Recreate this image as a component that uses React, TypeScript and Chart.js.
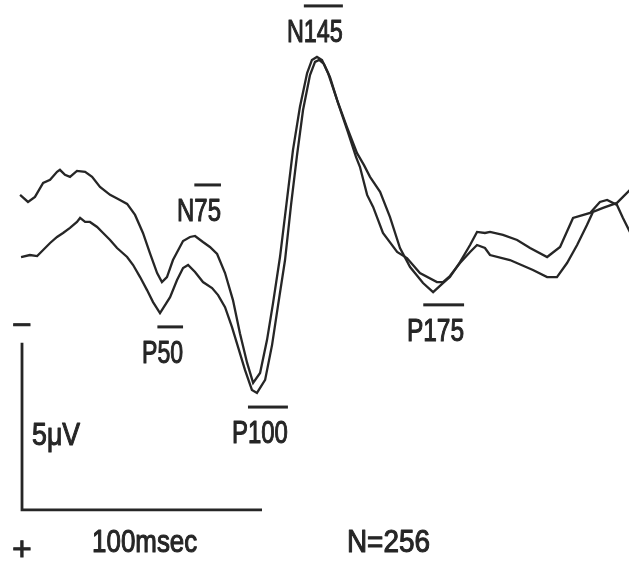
import React, { useEffect, useRef } from "react";
import { Chart, registerables } from "chart.js";

Chart.register(...registerables);

// Time (ms) and amplitude (µV, negative plotted upward) of the two averaged traces
const timeA = [-0.8, 2.5, 5.4, 8.8, 11.7, 14.6, 15.8, 17.9, 20.0, 22.9, 26.3, 29.2, 32.5, 36.7, 40.8, 43.8, 47.1, 50.4, 53.3, 56.3, 58.3, 60.4, 62.9, 67.1, 70.0, 72.1, 75.4, 78.3, 81.3, 84.6, 87.9, 90.8, 93.8, 96.3, 99.2, 102.1, 104.6, 107.5, 110.4, 112.9, 115.8, 118.8, 120.8, 122.9, 125.0, 127.5, 131.3, 135.4, 139.6, 142.5, 145.0, 149.2, 153.3, 157.5, 161.7, 167.1, 171.3, 175.4, 178.3, 182.5, 186.7, 189.6, 192.9, 195.0, 200.4, 206.3, 211.7, 218.8, 224.2, 229.6, 236.7, 240.8, 243.8, 247.9, 250.4, 253.3];
const voltA = [-1.65, -1.44, -1.59, -2.01, -2.10, -2.34, -2.40, -2.25, -2.19, -2.37, -2.34, -2.19, -1.89, -1.65, -1.50, -1.38, -1.05, -0.51, 0.09, 0.69, 0.96, 0.81, 0.30, -0.27, -0.39, -0.42, -0.24, -0.09, 0.12, 0.69, 1.50, 2.49, 3.38, 3.98, 3.68, 2.69, 1.59, 0.21, -1.50, -2.99, -4.28, -5.30, -5.69, -5.78, -5.69, -5.30, -4.49, -3.68, -2.90, -2.54, -2.19, -1.74, -0.99, -0.06, 0.51, 0.99, 1.26, 0.99, 0.81, 0.36, -0.15, -0.54, -0.51, -0.54, -0.45, -0.30, -0.06, 0.21, -0.09, -0.96, -1.11, -1.44, -1.50, -1.35, -0.96, -0.54];

const timeB = [-0.4, 3.3, 6.3, 8.8, 11.7, 14.6, 17.1, 20.0, 22.9, 24.2, 26.3, 28.3, 31.3, 33.8, 36.7, 39.6, 43.8, 46.3, 49.2, 52.1, 54.6, 57.5, 61.7, 64.6, 67.1, 69.2, 72.1, 75.4, 79.2, 81.7, 84.6, 87.5, 90.0, 92.9, 95.8, 97.9, 101.3, 104.2, 106.7, 109.6, 112.1, 114.6, 117.1, 120.0, 122.1, 123.8, 125.8, 128.3, 131.7, 135.8, 139.2, 140.8, 143.8, 146.3, 150.4, 156.3, 160.4, 165.8, 172.9, 175.4, 178.3, 182.5, 186.7, 189.6, 192.9, 195.0, 203.3, 212.9, 218.8, 222.9, 227.1, 231.3, 235.4, 237.9, 242.1, 247.9, 253.3];
const voltB = [0.21, 0.15, 0.18, 0.00, -0.21, -0.39, -0.51, -0.66, -0.84, -0.96, -0.84, -0.84, -0.69, -0.51, -0.30, -0.06, 0.21, 0.45, 0.81, 1.20, 1.56, 1.89, 1.41, 0.90, 0.54, 0.45, 0.66, 0.96, 1.14, 1.35, 1.71, 2.31, 2.90, 3.59, 4.19, 4.28, 3.89, 2.84, 1.65, 0.30, -1.35, -2.84, -4.19, -5.24, -5.63, -5.69, -5.57, -5.18, -4.40, -3.53, -2.78, -2.49, -1.65, -1.29, -0.51, 0.06, 0.24, 0.69, 0.96, 0.96, 0.78, 0.39, 0.06, -0.15, -0.06, 0.15, 0.30, 0.60, 0.81, 0.81, 0.39, -0.15, -0.75, -1.14, -1.26, -1.41, -1.80];

// Peak labels: text, left time (ms), baseline (µV), width (ms)
const peakNames = ["N145", "N75", "P50", "P100", "P175"];
const peakTimes = [110.4, 64.6, 50.0, 87.5, 160.4];
const peakVolts = [-6.23, -0.87, 3.38, 5.78, 2.72];
const peakWidths = [23.3, 18.3, 17.1, 23.3, 23.8];

// Calibration bar: 5 µV by 100 ms
const barTime = [0, 100];
const barVolt = [2.78, 7.78];

const noteTexts = ["5\u03bcV", "100msec", "N=256"];
const noteTimes = [4.2, 29.2, 135.4];
const noteVolts = [5.84, 9.04, 9.04];
const noteWidths = [20.0, 43.8, 34.6];

const INK = "#262626";
const FONT = '32px "Liberation Sans", Arial, Helvetica, sans-serif';

function drawText(ctx: CanvasRenderingContext2D, text: string, x: number, y: number, w: number, overFrom: number) {
  ctx.save();
  ctx.font = FONT;
  const m = ctx.measureText(text).width;
  const sx = w / m;
  ctx.translate(x, y);
  ctx.scale(sx, 1);
  ctx.fillStyle = INK;
  ctx.strokeStyle = INK;
  ctx.lineWidth = 1.1;
  ctx.lineJoin = "round";
  ctx.textBaseline = "alphabetic";
  ctx.textAlign = "left";
  ctx.fillText(text, 0, 0);
  ctx.strokeText(text, 0, 0);
  if (overFrom > 0) {
    const pre = ctx.measureText(text.slice(0, overFrom)).width;
    ctx.fillRect(pre, -37.5, m - pre, 3);
  }
  ctx.restore();
}

const annotations = {
  id: "annotations",
  afterDatasetsDraw(chart: any) {
    const ctx = chart.ctx as CanvasRenderingContext2D;
    const xs = chart.scales.x;
    const ys = chart.scales.y;
    // calibration bar
    const x0 = xs.getPixelForValue(barTime[0]);
    const x1 = xs.getPixelForValue(barTime[1]);
    const yTop = ys.getPixelForValue(barVolt[0]);
    const yBot = ys.getPixelForValue(barVolt[1]);
    ctx.save();
    ctx.strokeStyle = INK;
    ctx.lineWidth = 2.8;
    ctx.lineCap = "butt";
    ctx.beginPath();
    ctx.moveTo(x0, yTop);
    ctx.lineTo(x0, yBot);
    ctx.lineTo(x1, yBot);
    ctx.stroke();
    ctx.restore();
    // polarity signs
    ctx.save();
    ctx.font = '34px "Liberation Sans", Arial, sans-serif';
    ctx.fillStyle = INK;
    ctx.strokeStyle = INK;
    ctx.lineWidth = 0.8;
    ctx.textAlign = "center";
    ctx.fillText("\u2212", x0, yTop - 7);
    ctx.strokeText("\u2212", x0, yTop - 7);
    ctx.fillText("+", x0, yBot + 50);
    ctx.strokeText("+", x0, yBot + 50);
    ctx.restore();
    // peak labels
    peakNames.forEach((name, i) => {
      const x = xs.getPixelForValue(peakTimes[i]);
      const w = xs.getPixelForValue(peakTimes[i] + peakWidths[i]) - x;
      drawText(ctx, name, x, ys.getPixelForValue(peakVolts[i]), w, 1);
    });
    noteTexts.forEach((t, i) => {
      const x = xs.getPixelForValue(noteTimes[i]);
      const w = xs.getPixelForValue(noteTimes[i] + noteWidths[i]) - x;
      drawText(ctx, t, x, ys.getPixelForValue(noteVolts[i]), w, 0);
    });
  },
};

export default function App() {
  const ref = useRef<HTMLCanvasElement | null>(null);
  useEffect(() => {
    if (!ref.current) return;
    const chart = new Chart(ref.current, {
      type: "line",
      data: {
        datasets: [
          {
            data: timeA.map((t, i) => ({ x: t, y: voltA[i] })),
            borderColor: INK,
            borderWidth: 2.3,
            pointRadius: 0,
            fill: false,
          },
          {
            data: timeB.map((t, i) => ({ x: t, y: voltB[i] })),
            borderColor: INK,
            borderWidth: 2.3,
            pointRadius: 0,
            fill: false,
          },
        ],
      },
      options: {
        animation: false,
        responsive: false,
        devicePixelRatio: 1,
        layout: { padding: 0 },
        plugins: { legend: { display: false }, tooltip: { enabled: false } },
        scales: {
          x: { type: "linear", min: -9.17, max: 252.92, display: false },
          y: { type: "linear", min: -7.485, max: 9.371, reverse: true, display: false },
        },
      },
      plugins: [annotations],
    });
    return () => chart.destroy();
  }, []);
  return (
    <div style={{ position: "fixed", left: 0, top: 0, width: 629, height: 563, background: "#ffffff" }}>
      <canvas ref={ref} width={629} height={563} style={{ display: "block" }} />
    </div>
  );
}
